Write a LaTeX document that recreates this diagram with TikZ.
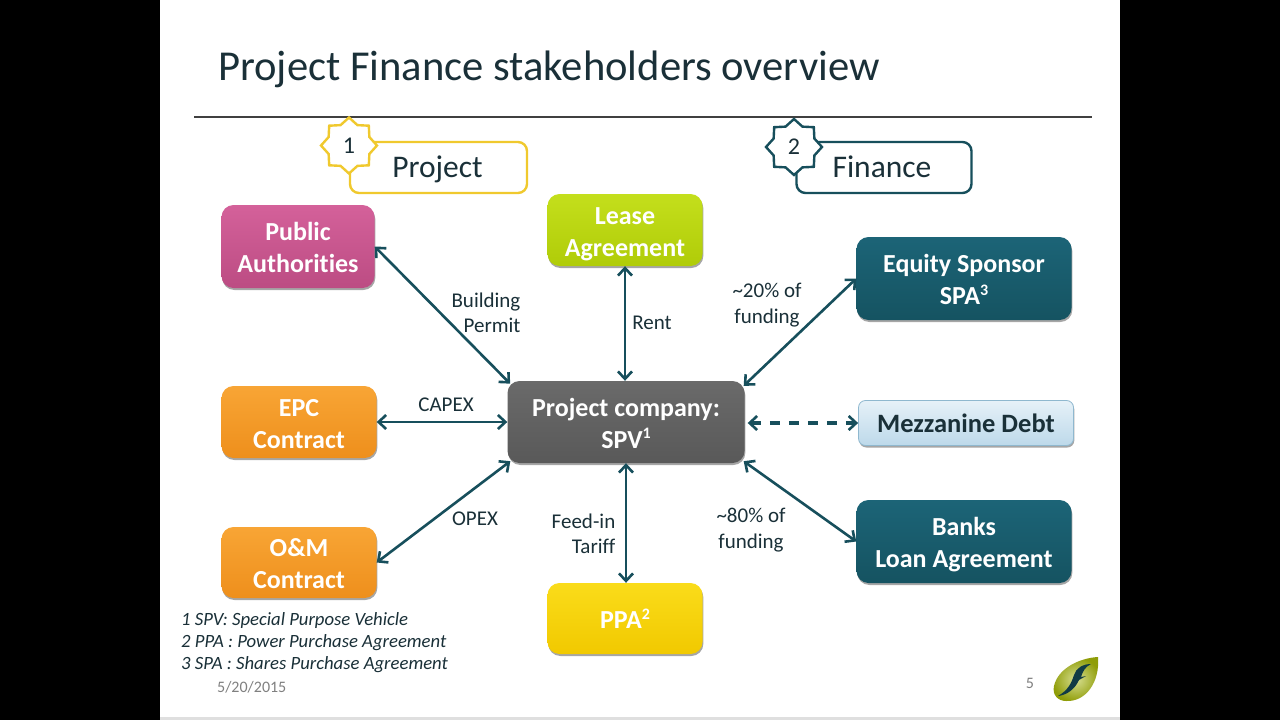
\documentclass[tikz,border=0pt]{standalone}
\usepackage{fontspec}
\setmainfont[Ligatures=NoCommon]{Carlito}
\usetikzlibrary{arrows.meta,shapes.geometric,shadows,calc}
\definecolor{teal1}{HTML}{174F5C}
\definecolor{tealtop}{HTML}{1C6477}
\definecolor{tealmid}{HTML}{185A6B}
\definecolor{tealbot}{HTML}{155361}
\definecolor{ink}{HTML}{1A3038}
\definecolor{yel}{HTML}{F0C92E}
\definecolor{pinkt}{HTML}{D4619A}\definecolor{pinkm}{HTML}{C9568F}\definecolor{pinkb}{HTML}{BC4C83}
\definecolor{limet}{HTML}{C4DF1C}\definecolor{limem}{HTML}{B9D410}\definecolor{limeb}{HTML}{B0CC08}
\definecolor{orgt}{HTML}{F8A535}\definecolor{orgm}{HTML}{F59B25}\definecolor{orgb}{HTML}{EE8F1C}
\definecolor{yelt}{HTML}{FADC1A}\definecolor{yelm}{HTML}{F6D20C}\definecolor{yelb}{HTML}{F1C900}
\definecolor{gret}{HTML}{6A6A6A}\definecolor{grem}{HTML}{616161}\definecolor{greb}{HTML}{595959}
\definecolor{mezt}{HTML}{E6F1F8}\definecolor{mezb}{HTML}{BDD9EA}\definecolor{mezd}{HTML}{8FB8CF}
\newcommand\upfig[1]{\raisebox{.36em}{\fontsize{16}{16}\selectfont #1}}
\tikzset{
  x=1pt,y=-1pt,
  boxbase/.style={rounded corners=12pt,inner sep=0pt,align=center,text=white,
    font=\fontsize{26}{32}\selectfont\bfseries,
    drop shadow={shadow xshift=0.8pt,shadow yshift=-2pt,opacity=.35,fill=black}},
  twolines/.style={text height=52pt,text depth=0pt},
  size/.style 2 args={minimum width=#1 pt,minimum height=#2 pt},
  pubbox/.style={boxbase,twolines,top color=pinkt,middle color=pinkm,bottom color=pinkb},
  leasebox/.style={boxbase,twolines,top color=limet,middle color=limem,bottom color=limeb},
  orangebox/.style={boxbase,twolines,top color=orgt,middle color=orgm,bottom color=orgb},
  yellowbox/.style={boxbase,top color=yelt,middle color=yelm,bottom color=yelb},
  tealbox/.style={boxbase,twolines,top color=tealtop,middle color=tealmid,bottom color=tealbot},
  greybox/.style={boxbase,twolines,top color=gret,middle color=grem,bottom color=greb},
  mezzbox/.style={boxbase,text=ink,top color=mezt,bottom color=mezb,draw=mezd,line width=.8pt,rounded corners=7pt,font=\fontsize{26.5}{30}\selectfont\bfseries},
  arr/.style={teal1,line width=2.6pt,{Straight Barb[length=7.5pt,width=14pt,line width=2.6pt]}-{Straight Barb[length=7.5pt,width=14pt,line width=2.6pt]}},
  lab/.style={inner sep=0pt,text=ink,font=\fontsize{21}{25.5}\selectfont,align=center},
  labr/.style={lab,align=right},
  tagbox/.style={rounded corners=9pt,line width=2.4pt,fill=white,inner sep=0pt,text=ink,text height=20pt,text depth=0pt,font=\fontsize{31.5}{36}\selectfont},
  burst/.style={star,star points=8,star point ratio=1.27,line width=2.4pt,fill=white,inner sep=0pt,minimum size=56pt,text=ink,font=\fontsize{24}{28}\selectfont},
}
\begin{document}
\begin{tikzpicture}
\useasboundingbox (0,0) rectangle (1280,720);
\fill[black] (0,0) rectangle (1280,720);
\fill[white] (160,0) rectangle (1120,717);
\fill[gray!25] (160,717) rectangle (1120,720);
% title
\node[anchor=base west,inner sep=0pt,text=ink,font=\fontsize{42.6}{48}\selectfont] (title) at (218,80) {Project Finance stakeholders overview};
\draw[line width=1.5pt,black!75] (194,117) -- (1092,117);
% tags
\node[tagbox,draw=yel,size={177}{51}] (tagp) at (438.5,167.5) {\hspace*{-2pt}Project};
\node[burst,draw=yel] (starp) at (349,145.5) {1};
\node[tagbox,draw=teal1,size={175}{51}] (tagf) at (884,167.5) {\hspace*{-4pt}Finance};
\node[burst,draw=teal1] (starf) at (794,147) {2};
% boxes
\node[pubbox,size={153}{83}] (pub) at (298,246.5) {Public\\Authorities};
\node[leasebox,size={155}{72}] (lease) at (625,230) {Lease\\Agreement};
\node[tealbox,size={215}{83}] (eq) at (964,278.5) {Equity Sponsor\\SPA\upfig{3}};
\node[orangebox,size={155}{72}] (epc) at (299,422) {EPC\\Contract};
\node[greybox,size={237}{82}] (spv) at (626,422) {Project company:\\SPV\upfig{1}};
\node[mezzbox,size={215}{45}] (mezz) at (966,423) {Mezzanine Debt};
\node[orangebox,size={155}{71}] (om) at (299,562.5) {O\&M\\Contract};
\node[yellowbox,size={155}{71}] (ppa) at (625,618.5) {PPA\upfig{2}};
\node[tealbox,size={215}{83}] (banks) at (964,541.5) {Banks\\Loan Agreement};
% connectors
\draw[arr,shorten >=-4pt] (pub.east) -- (spv.north west);
\draw[arr] (lease.south) -- (lease.south |- spv.north);
\draw[arr] ($(spv.north east)+(-1,5)$) -- (eq.west);
\draw[arr] (epc.east) -- (spv.west |- epc.east);
\draw[arr,line width=3.2pt,dash pattern=on 10pt off 9pt] ($(spv.east)+(3,1)$) -- (mezz.west);
\draw[arr] ($(spv.south east)+(-1,-2)$) -- (banks.west);
\draw[arr] (om.east) -- ($(spv.south west)+(3,-2)$);
\draw[arr] (spv.south) -- (spv.south |- ppa.north);
% labels
\node[labr] (l1) at (486,313) {Building\\Permit};
\node[lab] (l2) at (446,405) {CAPEX};
\node[lab] (l3) at (652,323) {Rent};
\node[lab] (l4) at (767,305) {\textasciitilde 20\% of\\funding};
\node[lab] (l5) at (475,519) {OPEX};
\node[labr] (l6) at (583.5,534) {Feed-in\\Tariff};
\node[lab] (l7) at (751,530) {\textasciitilde 80\% of\\funding};
% footnotes
\node[anchor=north west,inner sep=0pt,align=left,text=ink,font=\fontsize{18.7}{22}\selectfont\itshape] (notes) at (181,612)
 {1 SPV: Special Purpose Vehicle\\2 PPA : Power Purchase Agreement\\3 SPA : Shares Purchase Agreement};
\node[anchor=base west,inner sep=0pt,text=black!50,font=\fontsize{16}{20}\selectfont] (date) at (217,692) {5/20/2015};
\node[anchor=base,inner sep=0pt,text=black!50,font=\fontsize{16}{20}\selectfont] (page) at (1030,688) {5};
% logo
\shade[inner color=limem!35!white!85!olive,outer color=limem!55!olive!90!black]
  (1098,657) .. controls (1080,658) and (1058,668) .. (1054,686) .. controls (1052,695) and (1058,701) .. (1066,701)
  .. controls (1086,702) and (1100,682) .. cycle;
\fill[teal1!75!black] (1058,696) .. controls (1068,690) and (1071,684) .. (1074,675) .. controls (1076,668) and (1083,664) .. (1091,664)
  .. controls (1085,667) and (1083,671) .. (1081,677) -- (1086,676) -- (1079,680) .. controls (1075,689) and (1067,695) .. cycle;
\end{tikzpicture}
\end{document}
